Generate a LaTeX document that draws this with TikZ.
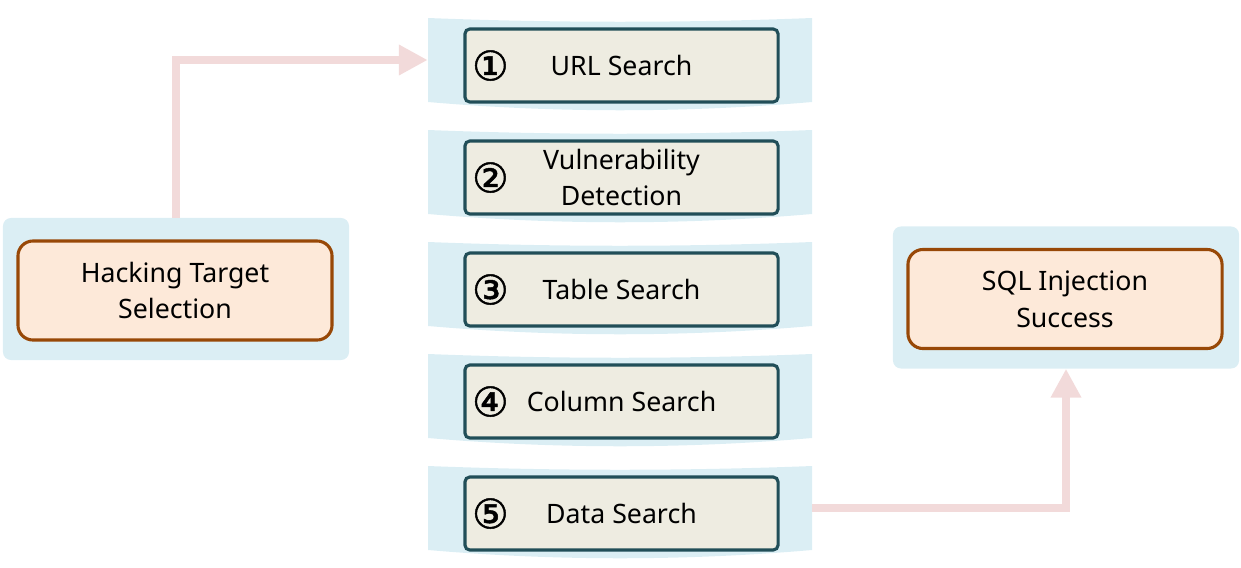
\documentclass[tikz,border=0pt]{standalone}
\usepackage{fontspec}
\setmainfont{Noto Sans}
\newfontfamily\numfont[FakeBold=1.2]{DejaVu Sans}
\usetikzlibrary{arrows.meta,positioning}

\definecolor{bandblue}{RGB}{219,238,244}
\definecolor{stepfill}{RGB}{238,236,225}
\definecolor{stepline}{RGB}{33,78,88}
\definecolor{goalfill}{RGB}{253,233,217}
\definecolor{goalline}{RGB}{152,72,7}
\definecolor{flowpink}{RGB}{242,218,218}

\tikzset{
    panel/.style = {
        fill=bandblue,
        rounded corners=0.2cm,
        minimum width=8.65cm,
        minimum height=3.55cm
    },
    goal/.style = {
        draw=goalline,
        line width=2.2pt,
        fill=goalfill,
        rounded corners=0.375cm,
        minimum width=7.85cm,
        minimum height=2.475cm,
        align=center,
        font=\fontsize{19}{26}\selectfont
    },
    stepbox/.style = {
        draw=stepline,
        line width=2.2pt,
        fill=stepfill,
        rounded corners=0.12cm,
        minimum width=7.825cm,
        minimum height=1.825cm,
        align=center,
        font=\fontsize{19}{26}\selectfont
    },
    band/.style = {
        minimum width=9.6cm,
        minimum height=2.1cm,
        inner sep=0pt
    },
    num/.style = {
        inner sep=0pt,
        font=\numfont\fontsize{29}{30}\selectfont
    },
    flow/.style = {
        line width=0.2cm,
        flowpink,
        -{Triangle[length=0.72cm,width=0.72cm]}
    }
}

\begin{document}
\begin{tikzpicture}[x=0.025cm,y=-0.025cm]
    \useasboundingbox (0,0) rectangle (1241,567);

    % Draw the bands and the steps
    \foreach \i/\sym/\txt in {1/①/URL Search, 2/②/Vulnerability\\Detection,
            3/③/Table Search, 4/④/Column Search, 5/⑤/Data Search} {
        \pgfmathsetmacro\bandtop{18+112*(\i-1)}
        \fill[bandblue] (428,\bandtop) .. controls (556,\bandtop+5) and (684,\bandtop+5) .. (812,\bandtop)
            -- (812,\bandtop+84) .. controls (684,\bandtop+95) and (556,\bandtop+95) .. (428,\bandtop+84) -- cycle;
        \node[band] (b\i) at (620,\bandtop+42) {};
        \node[stepbox] (s\i) at (621.5,\bandtop+47.5) {\txt};
        \node[num] (n\i) at ([xshift=0.675cm]s\i.west) {\sym};
    }

    % Draw start and end
    \node[panel] (lp) at (176,289) {};
    \node[goal] (ls) at (175,290.5) {Hacking Target\\Selection};
    \node[panel] (rp) at (1066,297.5) {};
    \node[goal] (rs) at (1065,299) {SQL Injection\\Success};

    % Draw arrows
    \draw[flow] (lp.north) |- (b1.west);
    \draw[flow] (b5.east) -| (rp.south);
\end{tikzpicture}
\end{document}
